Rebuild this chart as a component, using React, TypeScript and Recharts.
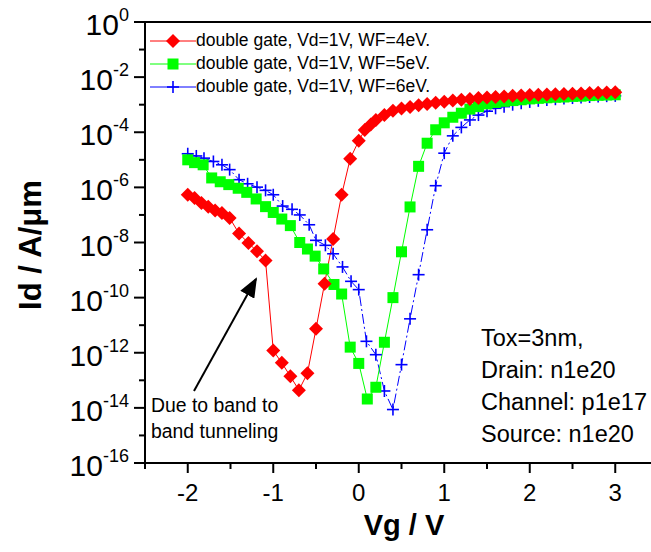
import React from 'react';
import {
  LineChart,
  Line,
  XAxis,
  YAxis,
  Legend,
  ReferenceLine
} from 'recharts';

// gate voltage (V) and drain current (A/um)
const wf4Vg = [
  -2.0, -1.92, -1.84, -1.76, -1.68, -1.6, -1.51, -1.4, -1.29, -1.19, -1.09,
  -1.0, -0.9, -0.8, -0.7, -0.6, -0.5, -0.4, -0.3, -0.2, -0.1, 0.0,
  0.07, 0.14, 0.2, 0.3, 0.4, 0.5, 0.6, 0.7, 0.8, 0.9, 1.0, 1.1, 1.2, 1.3,
  1.4, 1.5, 1.6, 1.7, 1.8, 1.9, 2.0, 2.1, 2.2, 2.3, 2.4, 2.5, 2.6, 2.7,
  2.8, 2.9, 3.0
];
const wf4Id = [
  5.4e-7, 4.1e-7, 2.7e-7, 2.0e-7, 1.45e-7, 1.17e-7, 7.8e-8, 2.1e-8, 9.5e-9, 4.8e-9, 2.2e-9,
  1.2e-12, 4.3e-13, 1.4e-13, 4.4e-14, 1.8e-13, 7.4e-12, 3.2e-10, 1.35e-8, 5.4e-7, 1.1e-5, 4.9e-5,
  1.2e-4, 1.9e-4, 2.8e-4, 4.2e-4, 6.0e-4, 7.2e-4, 8.3e-4, 9.5e-4, 1.07e-3, 1.17e-3, 1.29e-3, 1.41e-3, 1.51e-3, 1.62e-3,
  1.74e-3, 1.82e-3, 1.9e-3, 2.0e-3, 2.09e-3, 2.14e-3, 2.24e-3, 2.29e-3, 2.34e-3, 2.4e-3, 2.45e-3, 2.51e-3, 2.57e-3, 2.63e-3,
  2.69e-3, 2.75e-3, 2.82e-3
];

const wf5Vg = [
  -2.0, -1.92, -1.82, -1.72, -1.62, -1.52, -1.41, -1.31, -1.2, -1.09, -1.0,
  -0.9, -0.8, -0.69, -0.6, -0.51, -0.41, -0.29, -0.2, -0.1, 0.0, 0.1, 0.2,
  0.3, 0.4, 0.5, 0.6, 0.7, 0.8, 0.9, 1.0, 1.1, 1.2, 1.3, 1.4, 1.5, 1.6, 1.7,
  1.8, 1.9, 2.0, 2.1, 2.2, 2.3, 2.4, 2.5, 2.6, 2.7, 2.8, 2.9, 3.0
];
const wf5Id = [
  1.0e-5, 7.9e-6, 6.6e-6, 2.2e-6, 1.6e-6, 1.26e-6, 9.3e-7, 6.6e-7, 3.8e-7, 2.0e-7, 1.23e-7,
  7.1e-8, 4.1e-8, 1.0e-8, 5.8e-9, 3.2e-9, 1.1e-9, 3.0e-10, 1.35e-10, 1.6e-12, 4.1e-13, 2.1e-14, 5.6e-14,
  2.4e-12, 1.0e-10, 4.6e-9, 1.95e-7, 5.8e-6, 4.0e-5, 1.23e-4, 2.2e-4, 3.5e-4, 4.9e-4, 6.9e-4, 8.5e-4, 1.07e-3, 1.2e-3, 1.32e-3,
  1.41e-3, 1.51e-3, 1.62e-3, 1.7e-3, 1.78e-3, 1.86e-3, 1.9e-3, 2.0e-3, 2.04e-3, 2.14e-3, 2.19e-3, 2.24e-3, 2.29e-3
];

const wf6Vg = [
  -2.0, -1.9, -1.81, -1.7, -1.6, -1.51, -1.4, -1.3, -1.19, -1.09, -1.0,
  -0.89, -0.78, -0.69, -0.58, -0.5, -0.39, -0.3, -0.19, -0.09, 0.0, 0.09, 0.2,
  0.3, 0.4, 0.5, 0.6, 0.7, 0.8, 0.9, 1.0, 1.1, 1.2, 1.3, 1.4, 1.5, 1.6, 1.7,
  1.8, 1.9, 2.0, 2.1, 2.2, 2.3, 2.4, 2.5, 2.6, 2.7, 2.8, 2.9, 3.0
];
const wf6Id = [
  1.66e-5, 1.38e-5, 1.15e-5, 8.7e-6, 6.6e-6, 4.4e-6, 1.9e-6, 1.35e-6, 1.02e-6, 7.8e-7, 5.4e-7,
  2.1e-7, 1.6e-7, 1.0e-7, 4.4e-8, 1.2e-8, 7.9e-9, 3.9e-9, 1.3e-9, 3.9e-10, 1.95e-10, 2.6e-12, 8.5e-13,
  4.1e-14, 8.7e-15, 3.7e-13, 1.7e-11, 6.8e-10, 2.9e-8, 1.15e-6, 1.74e-5, 7.4e-5, 1.5e-4, 2.8e-4, 4.2e-4, 5.8e-4, 7.4e-4, 8.5e-4,
  1.0e-3, 1.12e-3, 1.26e-3, 1.38e-3, 1.48e-3, 1.58e-3, 1.66e-3, 1.74e-3, 1.82e-3, 1.9e-3, 2.0e-3, 2.04e-3, 2.09e-3
];

const seriesNames = [
  'double gate, Vd=1V, WF=4eV.',
  'double gate, Vd=1V, WF=5eV.',
  'double gate, Vd=1V, WF=6eV.'
];

const xTicks = [-2.5, -2, -1.5, -1, -0.5, 0, 0.5, 1, 1.5, 2, 2.5, 3, 3.5];
const yTicks = [
  1, 1e-1, 1e-2, 1e-3, 1e-4, 1e-5, 1e-6, 1e-7, 1e-8, 1e-9, 1e-10,
  1e-11, 1e-12, 1e-13, 1e-14, 1e-15, 1e-16
];

const noteLines = ['Tox=3nm,', 'Drain: n1e20', 'Channel: p1e17', 'Source: n1e20'];
const arrowNote = ['Due to band to', 'band tunneling'];

const FONT = "'Liberation Sans', Arial, sans-serif";

const toRows = (xs: number[], ys: number[]) => xs.map((x, i) => ({ x, y: ys[i] }));

const wf4 = toRows(wf4Vg, wf4Id);
const wf5 = toRows(wf5Vg, wf5Id);
const wf6 = toRows(wf6Vg, wf6Id);

function Marker({ kind, cx, cy }: { kind: string; cx: number; cy: number }) {
  if (kind === 'diamond') {
    const r = 7;
    return (
      <polygon
        points={`${cx},${cy - r} ${cx + r},${cy} ${cx},${cy + r} ${cx - r},${cy}`}
        fill="#ff0000"
      />
    );
  }
  if (kind === 'square') {
    const h = 5.5;
    return <rect x={cx - h} y={cy - h} width={2 * h} height={2 * h} fill="#00ff00" />;
  }
  const h = 6;
  return (
    <g stroke="#0000ff" strokeWidth={1.6}>
      <line x1={cx - h} x2={cx + h} y1={cy} y2={cy} />
      <line x1={cx} x2={cx} y1={cy - h} y2={cy + h} />
    </g>
  );
}

const dotFor = (kind: string) => (props: any) => {
  const { cx, cy, index } = props;
  if (cx == null || cy == null) return <g key={index} />;
  return (
    <g key={index}>
      <Marker kind={kind} cx={cx} cy={cy} />
    </g>
  );
};

function YTick(props: any) {
  const { x, y, payload } = props;
  const e = Math.round(Math.log10(payload.value));
  const major = e % 2 === 0;
  return (
    <g>
      <line x1={x} x2={x - (major ? 11 : 6)} y1={y} y2={y} stroke="#000" strokeWidth={2} />
      {major && (
        <text
          x={x - 16}
          y={y + 13}
          textAnchor="end"
          fontFamily={FONT}
          fontSize={30}
          fill="#000"
        >
          10
          <tspan dy={-14} fontSize={18}>{String(e)}</tspan>
        </text>
      )}
    </g>
  );
}

function XTick(props: any) {
  const { x, y, payload } = props;
  const v = payload.value;
  const major = Number.isInteger(v);
  return (
    <g>
      <line x1={x} x2={x} y1={y} y2={y + (major ? 10 : 6)} stroke="#000" strokeWidth={2} />
      {major && (
        <text
          x={x}
          y={y + 38}
          textAnchor="middle"
          fontFamily={FONT}
          fontSize={24}
          fill="#000"
        >
          {String(v)}
        </text>
      )}
    </g>
  );
}

const legendItems = [
  { name: seriesNames[0], color: '#ff0000', kind: 'diamond' },
  { name: seriesNames[1], color: '#00ff00', kind: 'square' },
  { name: seriesNames[2], color: '#0000ff', kind: 'plus' }
];

function LegendBox() {
  return (
    <div style={{ fontFamily: FONT, fontSize: 17.5, color: '#000' }}>
      {legendItems.map((it) => (
        <div key={it.name} style={{ display: 'flex', alignItems: 'center', height: 23 }}>
          <svg width={46} height={20} style={{ display: 'block' }}>
            <line x1={0} x2={46} y1={10} y2={10} stroke={it.color} strokeWidth={1} />
            <Marker kind={it.kind} cx={23} cy={10} />
          </svg>
          <span style={{ whiteSpace: 'nowrap' }}>{it.name}</span>
        </div>
      ))}
    </div>
  );
}

export default function App() {
  return (
    <div
      style={{
        position: 'absolute',
        left: 0,
        top: 0,
        width: 651,
        height: 552,
        overflow: 'hidden',
        background: '#fff'
      }}
    >
      <LineChart
        width={680}
        height={552}
        margin={{ top: 22, right: 22, bottom: 29, left: 45 }}
      >
        <XAxis
          type="number"
          dataKey="x"
          domain={[-2.5, 3.5]}
          ticks={xTicks}
          tick={<XTick />}
          tickLine={false}
          tickSize={0}
          tickMargin={0}
          interval={0}
          height={60}
          axisLine={{ stroke: '#000', strokeWidth: 2 }}
          allowDataOverflow
        />
        <YAxis
          type="number"
          dataKey="y"
          scale="log"
          domain={[1e-16, 1]}
          ticks={yTicks}
          tick={<YTick />}
          tickLine={false}
          tickSize={0}
          tickMargin={0}
          interval={0}
          width={100}
          axisLine={{ stroke: '#000', strokeWidth: 2 }}
          allowDataOverflow
        />
        <ReferenceLine y={1} stroke="#000" strokeWidth={2} />
        <ReferenceLine x={3.5} stroke="#000" strokeWidth={2} />
        <Line
          data={wf6}
          dataKey="y"
          stroke="#0000ff"
          strokeWidth={1}
          strokeDasharray="10 3 2 3"
          dot={dotFor('plus')}
          activeDot={false}
          isAnimationActive={false}
        />
        <Line
          data={wf5}
          dataKey="y"
          stroke="#00ff00"
          strokeWidth={1}
          dot={dotFor('square')}
          activeDot={false}
          isAnimationActive={false}
        />
        <Line
          data={wf4}
          dataKey="y"
          stroke="#ff0000"
          strokeWidth={1}
          dot={dotFor('diamond')}
          activeDot={false}
          isAnimationActive={false}
        />
        <Legend
          layout="vertical"
          align="center"
          verticalAlign="middle"
          content={() => <LegendBox />}
          wrapperStyle={{ position: 'absolute', left: 150, top: 29, width: 'auto', height: 'auto' }}
        />
      </LineChart>

      {/* axis titles */}
      <div
        style={{
          position: 'absolute',
          left: 404,
          top: 525,
          transform: 'translate(-50%, -50%)',
          fontFamily: FONT,
          fontWeight: 'bold',
          fontSize: 29,
          whiteSpace: 'nowrap'
        }}
      >
        Vg / V
      </div>
      <div
        style={{
          position: 'absolute',
          left: 31,
          top: 245,
          transform: 'translate(-50%, -50%) rotate(-90deg)',
          fontFamily: FONT,
          fontWeight: 'bold',
          fontSize: 31,
          whiteSpace: 'nowrap'
        }}
      >
        Id / A/μm
      </div>

      {/* device notes */}
      <div
        style={{
          position: 'absolute',
          left: 481,
          top: 322,
          fontFamily: FONT,
          fontSize: 23.5,
          lineHeight: '32px',
          whiteSpace: 'nowrap'
        }}
      >
        {noteLines.map((t) => (
          <div key={t}>{t}</div>
        ))}
      </div>

      {/* band-to-band annotation */}
      <div
        style={{
          position: 'absolute',
          left: 151,
          top: 392,
          fontFamily: FONT,
          fontSize: 19.4,
          lineHeight: '26px',
          whiteSpace: 'nowrap'
        }}
      >
        {arrowNote.map((t) => (
          <div key={t}>{t}</div>
        ))}
      </div>
      <svg
        width={651}
        height={552}
        style={{ position: 'absolute', left: 0, top: 0, pointerEvents: 'none' }}
      >
        <defs>
          <marker id="head" markerWidth={10} markerHeight={8} refX={9} refY={4} orient="auto">
            <path d="M0,0 L10,4 L0,8 Z" fill="#000" />
          </marker>
        </defs>
        <line
          x1={194}
          y1={391}
          x2={256}
          y2={279}
          stroke="#000"
          strokeWidth={2}
          markerEnd="url(#head)"
        />
      </svg>
    </div>
  );
}
